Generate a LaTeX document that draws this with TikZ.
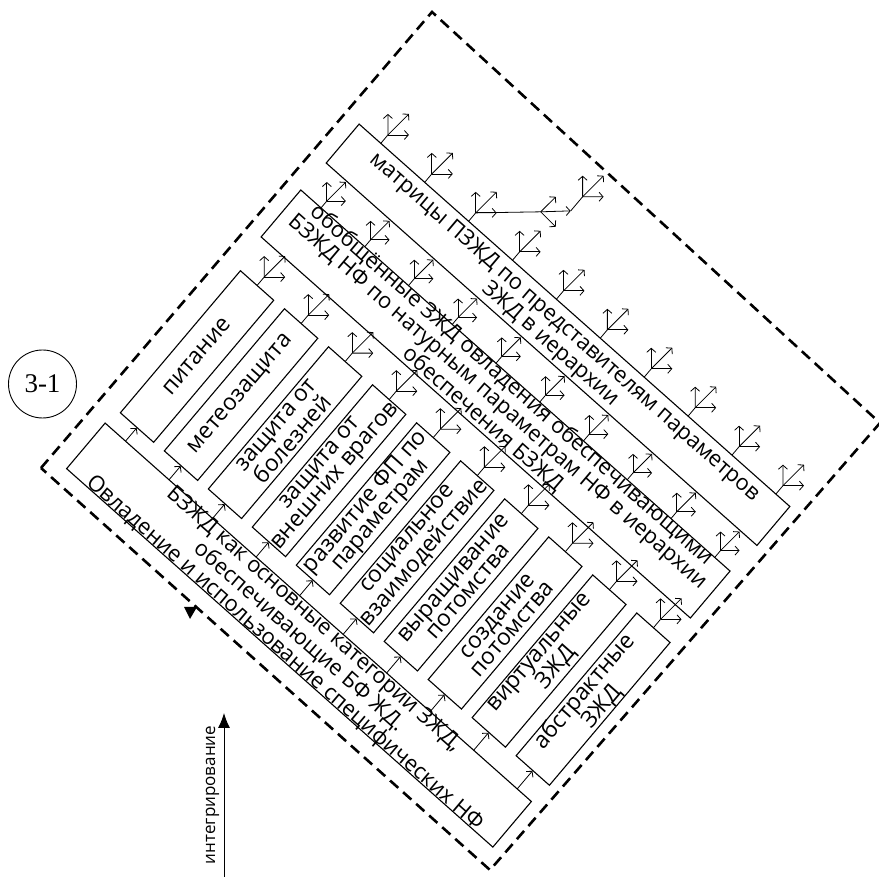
\documentclass[tikz,border=0pt]{standalone}
\usepackage{fontspec}
\setmainfont{Open Sans}
\newfontfamily\numfont{Liberation Serif}
\usetikzlibrary{arrows.meta}
\tikzset{
  dashframe/.style={line width=2.6pt, dash pattern=on 11pt off 6.5pt},
  boxshape/.style={draw, line width=1.1pt, inner sep=0pt, transform shape},
  txt/.style={inner sep=0pt, transform shape, align=center, font=\fontsize{22}{21.5}\selectfont},
  fine/.style={line width=0.8pt},
  farrow/.style={fine, -{Straight Barb[length=4pt,width=9pt]}},
}
% fork: name, u, v, arm length, stem length
\newcommand\forkup[5]{%
  \draw[fine] (#2,#3) coordinate (#1) -- ++(0,#5);
  \draw[farrow] (#2,{#3+#5}) -- ++({-0.6455*#4},{0.7478*#4});
  \draw[farrow] (#2,{#3+#5}) -- ++({0.7638*#4},{0.6639*#4});
  \draw[farrow] (#2,{#3+#5}) -- ++({0.1183*#4},{1.4117*#4});
}
\begin{document}
\begin{tikzpicture}[x=1pt,y=1pt]
\useasboundingbox (0,0) rectangle (879,877);
% dashed frame
\coordinate (cL) at (41,409);
\coordinate (cT) at (432,865);
\coordinate (cR) at (880,454);
\coordinate (cB) at (490,7);
\draw[dashframe] (cL) -- (cT) -- (cR) -- (cB) -- cycle;

\node[draw, circle, line width=0.9pt, minimum size=68pt, inner sep=0pt, font=\numfont\fontsize{27}{27}\selectfont] (c31) at (42.5,493) {3-1};

\coordinate (ia) at (224,-2);
\coordinate (ib) at (224,164);
\draw[line width=1pt, -{Latex[length=15pt,width=12pt]}] (ia) -- (ib);
\node[rotate=90, anchor=base, inner sep=0pt, font=\fontsize{17}{17}\selectfont] (integ) at (215,82) {интегрирование};

\fill (184,270) -- (197,270) -- (190,258) -- cycle;

\begin{scope}[cm={0.7478,-0.6639,0.6455,0.7638,(41pt,409pt)}]
  \node[boxshape, minimum width=570pt, minimum height=59.7pt] (bot) at (305,46.35) {};
  \node[txt, font=\fontsize{22}{17.5}\selectfont] (bott) at (306,45) {БЗЖД как основные категории ЗЖД,\\обеспечивающие БФ ЖД.\\Овладение и использование специфических НФ};
  \node[boxshape, minimum width=574pt, minimum height=61.5pt] (obo) at (306,349.75) {};
  \node[txt] (obot) at (306,352) {обобщённые ЗЖД овладения обеспечивающими\\БЗЖД НФ по натурным параметрам НФ в иерархии\\обеспечения БЗЖД};
  \node[boxshape, minimum width=576pt, minimum height=51pt] (mat) at (309,443) {};
  \node[txt, font=\fontsize{22}{22}\selectfont] (matt) at (309,441.5) {матрицы ПЗЖД по представителям параметров\\ЗЖД в иерархии};
  \foreach \k/\lbl in {0/{питание}, 1/{метеозащита}, 2/{защита от\\болезней}, 3/{защита от\\внешних врагов}, 4/{развитие ФП по\\параметрам}, 5/{социальное\\взаимодействие}, 6/{выращивание\\потомства}, 7/{создание\\потомства}, 8/{виртуальные\\ЗЖД}, 9/{абстрактные\\ЗЖД}} {
    \pgfmathsetmacro\uc{47.25+58.2*\k}
    \pgfmathsetmacro\vb{94+0.7*\k}
    \pgfmathsetmacro\vt{280+0.8*\k}
    \pgfmathsetmacro\vc{(\vb+\vt)/2}
    \pgfmathsetmacro\hh{\vt-\vb}
    \node[boxshape, rotate=90, minimum width=\hh pt, minimum height=44.5pt] (s\k) at (\uc,\vc) {};
    \node[txt, rotate=90, font=\fontsize{23}{20}\selectfont] (st\k) at (\uc,\vc) {\lbl};
    \coordinate (ab\k) at (\uc,76.2);
    \draw[farrow] (ab\k) -- (s\k.west);
    \forkup{sf\k}{\uc}{\vt}{21}{11}
  }
  \foreach \k in {0,...,9} {
    \pgfmathsetmacro\uf{46+58.5*\k}
    \forkup{of\k}{\uf}{380.5}{19}{9}
  }
  \foreach \k in {0,...,9} {
    \pgfmathsetmacro\uf{50+58.7*\k}
    \forkup{mf\k}{\uf}{468.5}{21}{11}
  }
  % linked forks
  \coordinate (mA) at (167.4,479.5);
  \coordinate (mB) at (216.4,523.5);
  \coordinate (mE) at (238.7,544.1);
  \coordinate (mC) at (238.7,562.6);
  \draw[fine] (mA) -- (mB);
  \draw[farrow] (mB) -- ++(1.8,21.2);
  \draw[farrow] (mB) -- ++(21.1,-1.3);
  \draw[farrow] (mB) -- (mE);
  \draw[fine] (mE) -- (mC);
  \draw[farrow] (mC) -- ++(-13.6,15.7);
  \draw[farrow] (mC) -- ++(16,13.9);
  \draw[farrow] (mC) -- ++(2.5,29.6);
\end{scope}
\end{tikzpicture}
\end{document}
